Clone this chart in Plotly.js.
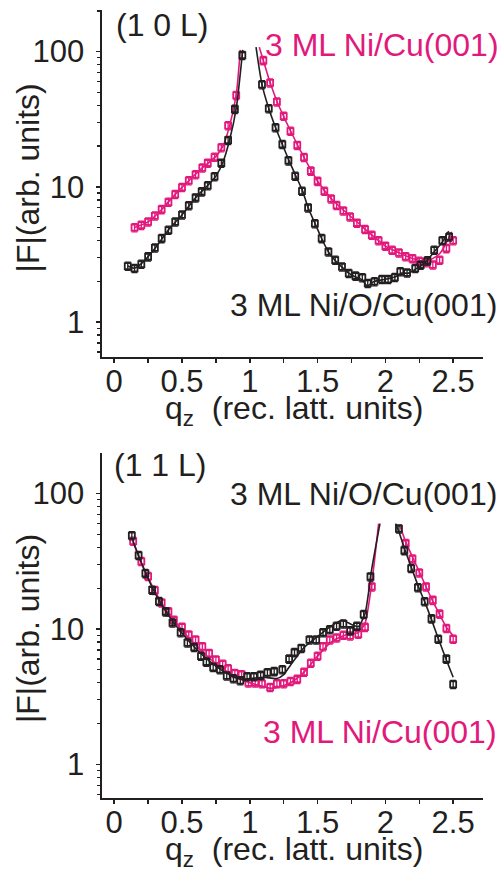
<!DOCTYPE html>
<html>
<head>
<meta charset="utf-8">
<script src="https://cdn.plot.ly/plotly-3.0.1.min.js"></script>
<style>html,body{margin:0;padding:0;background:#fff;}#chart{width:502px;height:872px;}</style>
</head>
<body>
<div id="chart"></div>
<script>
// ---------- (1 0 L) rod ----------
const q10_NiCu = [0.15,0.20,0.25,0.30,0.35,0.40,0.45,0.50,0.55,0.60,0.65,0.69,0.74,0.79,0.84,0.90,
  1.10,1.15,1.20,1.25,1.30,1.35,1.40,1.45,1.50,1.55,1.60,1.64,1.69,1.74,1.79,1.85,1.90,1.95,2.00,2.05,2.10,2.15,2.20,2.25,2.30,2.35,2.40,2.45,2.50];
const F10_NiCu = [5.0,5.2,5.5,6.1,6.8,7.7,8.8,9.9,11.1,12.3,13.8,15.0,16.6,19.5,28.4,47.5,
  86,58.7,42.5,33.3,25.8,20.3,16.5,13.1,11.0,9.3,8.15,7.3,6.65,6.0,5.4,4.85,4.4,4.0,3.65,3.4,3.25,3.05,2.95,2.82,2.75,2.65,2.87,3.5,4.0];
const q10_NiOCu = [0.10,0.15,0.20,0.25,0.30,0.35,0.40,0.45,0.50,0.55,0.60,0.645,0.69,0.74,0.79,0.84,0.89,0.945,
  1.09,1.14,1.19,1.24,1.285,1.335,1.385,1.43,1.48,1.53,1.58,1.63,1.68,1.73,1.78,1.83,1.87,1.92,1.975,2.02,2.07,2.11,2.16,2.22,2.26,2.31,2.36,2.42,2.47];
const F10_NiOCu = [2.59,2.49,2.68,3.04,3.54,4.15,4.78,5.5,6.2,7.25,8.3,9.2,10.2,11.9,15.0,22.1,37.5,94,
  57,37.9,27.4,20.6,15.6,12.0,9.3,7.0,5.35,4.15,3.3,2.87,2.56,2.29,2.19,2.13,1.93,1.99,2.07,2.07,2.14,2.36,2.31,2.49,2.64,2.84,3.4,4.0,4.27];
// fits (1 0 L)
const fit10_NiCu_qA = [0.15,0.25,0.35,0.45,0.55,0.65,0.75,0.80,0.85,0.90,0.93];
const fit10_NiCu_FA = [5.0,5.5,6.8,8.8,11.1,13.8,16.8,19.8,28,48,103];
const fit10_NiCu_qB = [1.07,1.10,1.15,1.20,1.30,1.40,1.50,1.60,1.70,1.80,1.90,2.00,2.10,2.20,2.30,2.40,2.49];
const fit10_NiCu_FB = [108,86,59,43,26,16.5,11,8.2,6.6,5.4,4.4,3.65,3.25,2.95,2.8,3.2,4.65];
const fit10_NiOCu_qA = [0.10,0.15,0.20,0.30,0.40,0.50,0.60,0.70,0.75,0.80,0.85,0.90,0.948];
const fit10_NiOCu_FA = [2.6,2.5,2.7,3.5,4.8,6.2,8.3,10.5,12,15,22,38,103];
const fit10_NiOCu_qB = [1.046,1.09,1.14,1.19,1.24,1.29,1.34,1.39,1.43,1.48,1.53,1.58,1.63,1.68,1.73,1.78,1.83,1.865,1.92,2.0,2.07,2.12,2.17,2.22,2.30,2.36,2.42,2.467];
const fit10_NiOCu_FB = [108,57,38,27.5,20.6,15.6,12,9.3,7.0,5.4,4.15,3.3,2.85,2.55,2.3,2.15,2.05,1.85,2.0,2.07,2.15,2.3,2.3,2.45,2.8,3.3,3.9,4.7];

// ---------- (1 1 L) rod ----------
const q11_NiOCu = [0.13,0.18,0.23,0.28,0.33,0.38,0.43,0.49,0.54,0.59,0.64,0.68,0.73,0.78,0.83,0.88,0.93,0.98,1.03,1.08,1.13,1.18,1.24,1.29,1.33,1.38,1.44,1.49,1.54,1.59,1.64,1.69,1.74,1.79,1.84,1.89,
  2.10,2.14,2.19,2.24,2.29,2.34,2.39,2.45,2.50];
const F11_NiOCu = [49,35,25.7,19.4,16.0,13.4,11.1,9.4,7.9,7.3,6.3,5.7,5.2,5.0,4.5,4.3,4.15,4.45,4.45,4.55,4.75,4.85,5.0,6.0,6.7,7.2,8.3,8.3,9.4,9.9,10.5,10.9,9.7,10.5,12.8,24.3,
  55,38,28,20.2,15.9,11.9,8.4,6.0,3.9];
const q11_NiCu = [0.14,0.20,0.25,0.30,0.35,0.40,0.44,0.50,0.55,0.60,0.65,0.70,0.75,0.80,0.84,0.89,0.94,0.99,1.04,1.09,1.15,1.20,1.25,1.30,1.35,1.40,1.45,1.50,1.54,1.59,1.64,1.69,1.74,1.80,1.85,1.90,
  2.15,2.20,2.25,2.30,2.35,2.40,2.45,2.50];
const F11_NiCu = [44.5,31.6,24.5,19.3,15.6,13.4,11.6,10.3,9.05,8.3,7.4,6.6,5.9,5.5,5.1,4.7,4.6,4.0,4.0,3.95,3.7,3.95,3.95,4.1,4.25,4.8,5.6,6.3,7.4,8.3,8.6,9.0,8.9,9.15,10.3,20.5,
  42.8,33,26,20.5,16.3,12.9,10.1,8.4];
// fits (1 1 L)
const fit11_NiOCu_qA = [0.13,0.2,0.3,0.4,0.5,0.6,0.7,0.8,0.9,0.95,1.0,1.1,1.2,1.25,1.3,1.4,1.5,1.6,1.68,1.75,1.8,1.85,1.9,1.96];
const fit11_NiOCu_FA = [47,31,18.5,12.6,9.3,7.2,5.8,4.9,4.35,4.25,4.3,4.4,4.3,4.6,5.4,7.3,8.8,10.5,11.6,10.8,10.4,13,28,60];
const fit11_NiOCu_qB = [2.075,2.1,2.15,2.2,2.25,2.3,2.35,2.4,2.45,2.5];
const fit11_NiOCu_FB = [60,52,37,27,19.8,15,11,8.0,5.9,4.4];
const fit11_NiCu_qA = [0.14,0.2,0.3,0.4,0.5,0.6,0.7,0.8,0.9,1.0,1.1,1.15,1.2,1.3,1.4,1.5,1.6,1.7,1.8,1.85,1.9,1.95];
const fit11_NiCu_FA = [44,30.5,19,13,9.8,7.6,6.1,5.1,4.4,4.0,3.75,3.65,3.7,4.0,4.8,6.3,8.0,9.0,9.4,11,22,60];
const fit11_NiCu_qB = [2.11,2.15,2.2,2.25,2.3,2.35,2.4,2.45,2.507];
const fit11_NiCu_FB = [57,44,34,26.5,20.5,16,12.8,10.3,8.75];

const xTickVals = [0,0.5,1,1.5,2,2.5];
const xTickText = ['0','0.5','1','1.5','2','2.5'];
const yTickVals = [1,10,100];
const yTickText = ['1','10','100'];
const xTitle = 'q<sub>z</sub>  (rec. latt. units)';
const yTitle = '|F|(arb. units)';

const INK = '#231f20';
const MAG = '#e2197c';
const FONT = 'Liberation Sans, Arial, Helvetica, sans-serif';

function pts(x, y, color, xa, ya) {
  return {x: x, y: y, xaxis: xa, yaxis: ya, type: 'scatter', mode: 'markers', showlegend: false,
    marker: {symbol: 'square-open', size: 6, color: color, line: {width: 1.8, color: color}},
    error_y: {type: 'percent', value: 7, color: color, thickness: 1.3, width: 3}, cliponaxis: false};
}
function fit(x, y, color, xa, ya) {
  return {x: x, y: y, xaxis: xa, yaxis: ya, type: 'scatter', mode: 'lines', showlegend: false,
    line: {color: color, width: 1.6, shape: 'spline', smoothing: 0.6}, cliponaxis: false};
}

const data = [
  fit(fit10_NiCu_qA, fit10_NiCu_FA, MAG, 'x', 'y'),
  fit(fit10_NiCu_qB, fit10_NiCu_FB, MAG, 'x', 'y'),
  pts(q10_NiCu, F10_NiCu, MAG, 'x', 'y'),
  fit(fit10_NiOCu_qA, fit10_NiOCu_FA, INK, 'x', 'y'),
  fit(fit10_NiOCu_qB, fit10_NiOCu_FB, INK, 'x', 'y'),
  pts(q10_NiOCu, F10_NiOCu, INK, 'x', 'y'),
  fit(fit11_NiCu_qA, fit11_NiCu_FA, MAG, 'x2', 'y2'),
  fit(fit11_NiCu_qB, fit11_NiCu_FB, MAG, 'x2', 'y2'),
  pts(q11_NiCu, F11_NiCu, MAG, 'x2', 'y2'),
  fit(fit11_NiOCu_qA, fit11_NiOCu_FA, INK, 'x2', 'y2'),
  fit(fit11_NiOCu_qB, fit11_NiOCu_FB, INK, 'x2', 'y2'),
  pts(q11_NiOCu, F11_NiOCu, INK, 'x2', 'y2')
];

function xax(anchor) {
  return {anchor: anchor, range: [-0.09, 2.72], showgrid: false, zeroline: false,
    showline: true, linecolor: INK, linewidth: 1.6, mirror: false,
    tickmode: 'array', tickvals: xTickVals, ticktext: xTickText,
    ticks: 'outside', ticklen: 4, tickwidth: 1.5, tickcolor: INK, ticklabelstandoff: -8,
    minor: {tickmode: 'linear', tick0: 0, dtick: 0.25, ticks: 'outside', ticklen: 4, tickwidth: 1.5, tickcolor: INK, showgrid: false},
    tickfont: {family: FONT, size: 31, color: INK}};
}
function yax(anchor, domain, range) {
  return {anchor: anchor, domain: domain, type: 'log', range: range, showgrid: false, zeroline: false,
    showline: true, linecolor: INK, linewidth: 1.6,
    tickmode: 'array', tickvals: yTickVals, ticktext: yTickText,
    ticks: 'outside', ticklen: 4, tickwidth: 1.5, tickcolor: INK, ticklabelstandoff: 6,
    minor: {dtick: 'D1', ticks: 'outside', ticklen: 3, tickwidth: 1.3, tickcolor: INK, showgrid: false},
    tickfont: {family: FONT, size: 31, color: INK}};
}

function txt(text, xref, yref, x, y, xanchor, color, angle) {
  return {text: text, xref: xref, yref: yref, x: x, y: y, xanchor: xanchor, yanchor: 'middle',
    showarrow: false, textangle: angle || 0, font: {family: FONT, size: 32, color: color}};
}

const layout = {
  width: 502, height: 872,
  margin: {l: 102, r: 19, t: 10, b: 74},
  paper_bgcolor: '#ffffff', plot_bgcolor: 'rgba(0,0,0,0)',
  font: {family: FONT, color: INK},
  showlegend: false,
  xaxis: xax('y'),
  yaxis: yax('x', [0.5596, 1], [-0.259, 2.308]),
  xaxis2: xax('y2'),
  yaxis2: yax('x2', [0, 0.4378], [-0.249, 2.30]),
  annotations: [
    // axis titles
    txt(xTitle, 'x domain', 'y domain', 0.505, -0.153, 'center', INK),
    txt(yTitle, 'x domain', 'y domain', -0.194, 0.515, 'center', INK, -90),
    txt(xTitle, 'x2 domain', 'y2 domain', 0.505, -0.154, 'center', INK),
    txt(yTitle, 'x2 domain', 'y2 domain', -0.194, 0.49, 'center', INK, -90),
    // panel labels
    txt('(1 0 L)', 'paper', 'y', 0.032, 2.197, 'left', INK),
    txt('3 ML Ni/Cu(001)', 'paper', 'y', 1.046, 2.05, 'right', MAG),
    txt('3 ML Ni/O/Cu(001)', 'paper', 'y', 1.041, 0.126, 'right', INK),
    txt('(1 1 L)', 'paper', 'y2', 0.027, 2.209, 'left', INK),
    txt('3 ML Ni/O/Cu(001)', 'paper', 'y2', 1.041, 2.0, 'right', INK),
    txt('3 ML Ni/Cu(001)', 'paper', 'y2', 1.041, 0.238, 'right', MAG)
  ]
};

Plotly.newPlot('chart', data, layout, {displayModeBar: false, staticPlot: true});
</script>
</body>
</html>
